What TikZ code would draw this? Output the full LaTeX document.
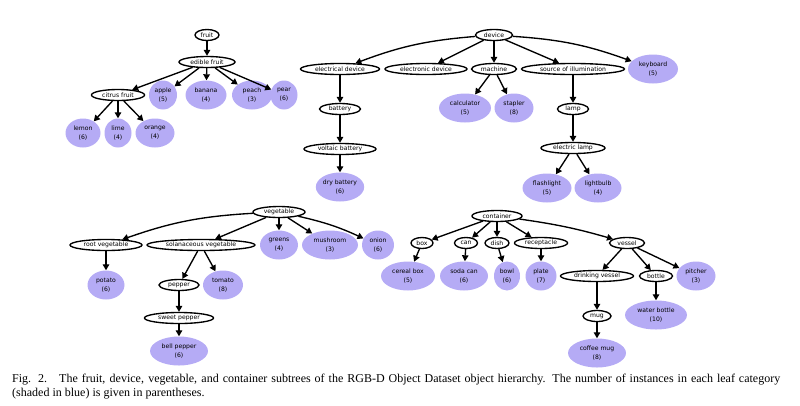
\documentclass[tikz,border=0pt]{standalone}
\usepackage{fontspec}
\setmainfont{Liberation Serif}
\newfontfamily\nodefont{DejaVu Sans}
\usetikzlibrary{shapes.geometric,arrows.meta}
\definecolor{leafblue}{RGB}{181,171,245}
\tikzset{
  inner/.style={ellipse, draw, line width=1.35pt, fill=white, minimum height=11pt, inner sep=0pt, font=\nodefont\fontsize{6.1}{8}\selectfont},
  leaf/.style={ellipse, fill=leafblue, minimum height=29pt, inner sep=0pt, align=center, font=\nodefont\fontsize{6.1}{9}\selectfont},
  link/.style={line width=1.35pt, -{Triangle[length=6pt,width=6.5pt]}}
}
\begin{document}
\begin{tikzpicture}[x=1pt,y={(0pt,-1pt)}]
\useasboundingbox (0,0) rectangle (800,405);
% ---------- fruit ----------
\node[inner, minimum width=24pt] (fruit) at (207,35) {fruit};
\node[inner, minimum width=56pt] (edible) at (207,62) {edible fruit};
\node[inner, minimum width=53pt] (citrus) at (118,95) {citrus fruit};
\node[leaf, minimum width=28pt] (apple) at (163,95) {apple\\(5)};
\node[leaf, minimum width=41pt] (banana) at (206,95) {banana\\(4)};
\node[leaf, minimum width=40pt] (peach) at (252,95) {peach\\(3)};
\node[leaf, minimum width=27pt] (pear) at (284,95) {pear\\(6)};
\node[leaf, minimum width=35pt] (lemon) at (83,133) {lemon\\(6)};
\node[leaf, minimum width=27pt] (lime) at (118,133) {lime\\(4)};
\node[leaf, minimum width=39pt] (orange) at (155,133) {orange\\(4)};
\draw[link] (fruit) -- (edible);
\draw[link] (edible) -- (citrus);
\draw[link] (edible) -- (apple);
\draw[link] (edible) -- (banana);
\draw[link] (edible) -- (peach);
\draw[link] (edible) -- (pear);
\draw[link] (citrus) -- (lemon);
\draw[link] (citrus) -- (lime);
\draw[link] (citrus) -- (orange);
% ---------- device ----------
\node[inner, minimum width=37pt] (device) at (494,35) {device};
\node[inner, minimum width=79pt] (electrical) at (340,69) {electrical device};
\node[inner, minimum width=82pt] (electronic) at (426,69) {electronic device};
\node[inner, minimum width=45pt] (machine) at (494,69) {machine};
\node[inner, minimum width=103pt] (illum) at (573,69) {source of illumination};
\node[leaf, minimum width=50pt] (keyboard) at (653,69) {keyboard\\(5)};
\node[inner, minimum width=41pt] (battery) at (340,109) {battery};
\node[leaf, minimum width=52pt] (calculator) at (465,108) {calculator\\(5)};
\node[leaf, minimum width=39pt] (stapler) at (514,108) {stapler\\(8)};
\node[inner, minimum width=31pt] (lamp) at (573,109) {lamp};
\node[inner, minimum width=72pt] (voltaic) at (340,149) {voltaic battery};
\node[inner, minimum width=64pt] (elamp) at (573,148) {electric lamp};
\node[leaf, minimum width=48pt] (dry) at (340,187) {dry battery\\(6)};
\node[leaf, minimum width=49pt] (flash) at (547,188) {flashlight\\(5)};
\node[leaf, minimum width=47pt] (bulb) at (598,188) {lightbulb\\(4)};
\draw[link] (device) to[bend right=8] (electrical);
\draw[link] (device) -- (electronic);
\draw[link] (device) -- (machine);
\draw[link] (device) -- (illum);
\draw[link] (device) to[bend left=8] (keyboard);
\draw[link] (electrical) -- (battery);
\draw[link] (battery) -- (voltaic);
\draw[link] (voltaic) -- (dry);
\draw[link] (machine) -- (calculator);
\draw[link] (machine) -- (stapler);
\draw[link] (illum) -- (lamp);
\draw[link] (lamp) -- (elamp);
\draw[link] (elamp) -- (flash);
\draw[link] (elamp) -- (bulb);
% ---------- vegetable ----------
\node[inner, minimum width=52pt] (vegetable) at (279,212) {vegetable};
\node[inner, minimum width=72pt] (root) at (106,245) {root vegetable};
\node[inner, minimum width=108pt] (solan) at (201,245) {solanaceous vegetable};
\node[leaf, minimum width=38pt] (greens) at (279,245) {greens\\(4)};
\node[leaf, minimum width=56pt] (mushroom) at (330,245) {mushroom\\(3)};
\node[leaf, minimum width=32pt] (onion) at (378,245) {onion\\(6)};
\node[leaf, minimum width=37pt] (potato) at (106,285) {potato\\(6)};
\node[inner, minimum width=40pt] (pepper) at (179,285) {pepper};
\node[leaf, minimum width=40pt] (tomato) at (223,285) {tomato\\(8)};
\node[inner, minimum width=69pt] (sweet) at (179,318) {sweet pepper};
\node[leaf, minimum width=58pt] (bell) at (179,351) {bell pepper\\(6)};
\draw[link] (vegetable) to[bend right=8] (root);
\draw[link] (vegetable) -- (solan);
\draw[link] (vegetable) -- (greens);
\draw[link] (vegetable) -- (mushroom);
\draw[link] (vegetable) to[bend left=6] (onion);
\draw[link] (root) -- (potato);
\draw[link] (solan) -- (pepper);
\draw[link] (solan) -- (tomato);
\draw[link] (pepper) -- (sweet);
\draw[link] (sweet) -- (bell);
% ---------- container ----------
\node[inner, minimum width=50pt] (container) at (497,216) {container};
\node[inner, minimum width=22pt] (box) at (422,243) {box};
\node[inner, minimum width=23pt] (can) at (466,243) {can};
\node[inner, minimum width=24pt] (dish) at (497,243) {dish};
\node[inner, minimum width=53pt] (recept) at (541,243) {receptacle};
\node[inner, minimum width=35pt] (vessel) at (627,243) {vessel};
\node[leaf, minimum width=54pt] (cereal) at (408,276) {cereal box\\(5)};
\node[leaf, minimum width=48pt] (soda) at (464,276) {soda can\\(6)};
\node[leaf, minimum width=26pt] (bowl) at (507,276) {bowl\\(6)};
\node[leaf, minimum width=31pt] (plate) at (541,276) {plate\\(7)};
\node[inner, minimum width=73pt] (drinking) at (597,276) {drinking vessel};
\node[inner, minimum width=33pt] (bottle) at (656,276) {bottle};
\node[leaf, minimum width=39pt] (pitcher) at (696,276) {pitcher\\(3)};
\node[inner, minimum width=28pt] (mug) at (597,316) {mug};
\node[leaf, minimum width=62pt] (water) at (656,315) {water bottle\\(10)};
\node[leaf, minimum width=58pt] (coffee) at (597,353) {coffee mug\\(8)};
\draw[link] (container) -- (box);
\draw[link] (container) -- (can);
\draw[link] (container) -- (dish);
\draw[link] (container) -- (recept);
\draw[link] (container) to[bend left=4] (vessel);
\draw[link] (box) -- (cereal);
\draw[link] (can) -- (soda);
\draw[link] (dish) -- (bowl);
\draw[link] (recept) -- (plate);
\draw[link] (vessel) -- (drinking);
\draw[link] (vessel) -- (bottle);
\draw[link] (vessel) -- (pitcher);
\draw[link] (drinking) -- (mug);
\draw[link] (mug) -- (coffee);
\draw[link] (bottle) -- (water);
% ---------- caption ----------
\node[anchor=base west, inner sep=0pt, text width=768pt, align=justify, font=\fontsize{12}{14}\selectfont] (caption) at (12,382)
{\hbadness=10000 Fig. 2.\quad The fruit, device, vegetable, and container subtrees of the RGB-D Object Dataset object hierarchy. The number of instances in each leaf category\linebreak (shaded in blue) is given in parentheses.};
\end{tikzpicture}
\end{document}
